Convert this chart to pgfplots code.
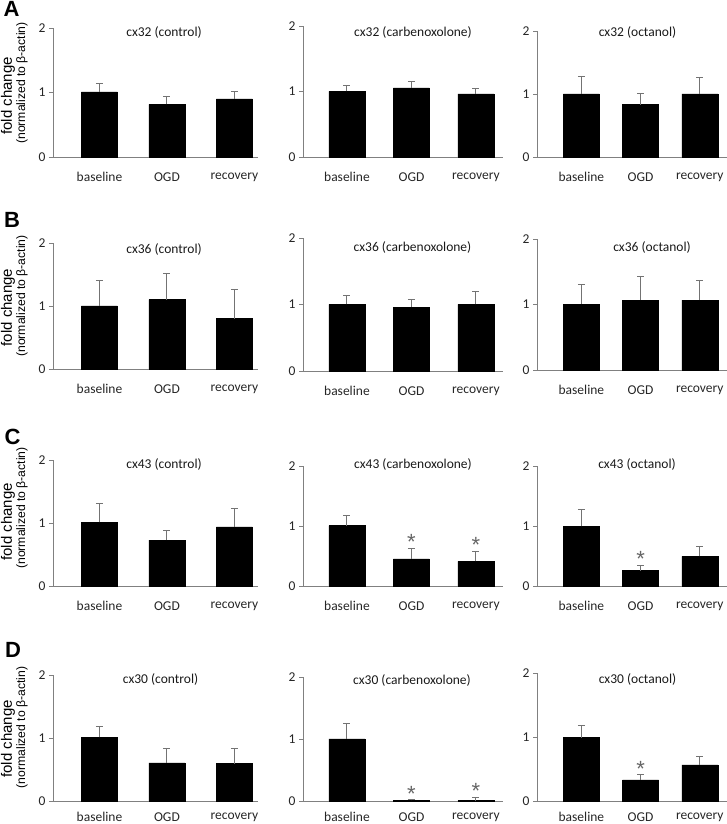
\documentclass[border=0pt]{standalone}
\usepackage{pgfplots}
\pgfplotsset{compat=1.18}
\usepackage{fontspec}
\setmainfont{Carlito}
\newfontfamily\arial{Liberation Sans}

\pgfplotsset{
  panel/.style={
    scale only axis,
    axis lines*=left,
    ymin=0, ymax=2, ytick={0,1,2},
    xtick={0,1,2}, xticklabels={baseline,OGD,recovery},
    axis line style={black!50, line width=0.9pt, -},
    xtick style={draw=none},
    ytick style={black!50, line width=0.9pt},
    tick align=outside, major tick length=4pt,
    ticklabel style={font=\fontsize{13.5}{15}\selectfont, text=black!85},
    /pgf/number format/assume math mode=true,
    anchor=south west,
    clip=false,
  },
  bars/.style={ybar, bar width=36pt, bar shift=0pt, fill=black, draw=black,
    error bars/y dir=plus, error bars/y explicit,
    error bars/error bar style={black!55, line width=1pt},
    error bars/error mark options={rotate=90, black!55, mark size=3.5pt, line width=1pt}},
  star/.style={only marks, mark=text, text mark={*}, text mark as node=true,
    text mark style={font=\arial\fontsize{22}{22}\selectfont, text=black!60, anchor=center, inner sep=0pt}},
  upper/.style={xticklabel style={yshift=-8pt}},
  lower/.style={xticklabel style={yshift=-4pt}},
}

\begin{document}
\begin{tikzpicture}[x=1pt,y=1pt]
\path[use as bounding box] (0,0) rectangle (727,824);

% ---------------- Row A ----------------
\begin{axis}[panel, upper, at={(53pt,667pt)}, width=205pt, height=129pt, xmin=-0.689, xmax=2.35]
\addplot[bars] table[x=x,y=y,y error=e] {
x y e
0 1.01 0.13
1 0.815 0.12
2 0.90 0.12
};
\end{axis}
\begin{axis}[panel, upper, at={(303pt,667pt)}, width=200pt, height=131pt, xmin=-0.682, xmax=2.42]
\addplot[bars] table[x=x,y=y,y error=e] {
x y e
0 1.0 0.09
1 1.056 0.09
2 0.964 0.076
};
\end{axis}
\begin{axis}[panel, upper, at={(537pt,667pt)}, width=190pt, height=126pt, xmin=-0.75, xmax=2.46]
\addplot[bars] table[x=x,y=y,y error=e] {
x y e
0 1.0 0.275
1 0.83 0.175
2 1.0 0.26
};
\end{axis}

% ---------------- Row B ----------------
\begin{axis}[panel, upper, at={(53pt,455pt)}, width=205pt, height=126pt, xmin=-0.689, xmax=2.35]
\addplot[bars] table[x=x,y=y,y error=e] {
x y e
0 1.0 0.41
1 1.10 0.413
2 0.80 0.454
};
\end{axis}
\begin{axis}[panel, upper, at={(303pt,453pt)}, width=200pt, height=133pt, xmin=-0.682, xmax=2.42]
\addplot[bars] table[x=x,y=y,y error=e] {
x y e
0 1.0 0.13
1 0.96 0.12
2 1.0 0.19
};
\end{axis}
\begin{axis}[panel, upper, at={(537pt,454pt)}, width=190pt, height=131pt, xmin=-0.75, xmax=2.46]
\addplot[bars] table[x=x,y=y,y error=e] {
x y e
0 1.005 0.295
1 1.066 0.364
2 1.066 0.304
};
\end{axis}

% ---------------- Row C ----------------
\begin{axis}[panel, upper, at={(53pt,238pt)}, width=205pt, height=126pt, xmin=-0.689, xmax=2.35]
\addplot[bars] table[x=x,y=y,y error=e] {
x y e
0 1.01 0.295
1 0.727 0.148
2 0.94 0.285
};
\end{axis}
\begin{axis}[panel, upper, at={(303pt,238pt)}, width=200pt, height=120pt, xmin=-0.682, xmax=2.42]
\addplot[bars] table[x=x,y=y,y error=e] {
x y e
0 1.005 0.165
1 0.45 0.167
2 0.41 0.157
};
\addplot[star] coordinates {(1,0.74) (2,0.69)};
\end{axis}
\begin{axis}[panel, upper, at={(537pt,238pt)}, width=190pt, height=120pt, xmin=-0.75, xmax=2.46]
\addplot[bars] table[x=x,y=y,y error=e] {
x y e
0 0.994 0.276
1 0.255 0.085
2 0.494 0.162
};
\addplot[star] coordinates {(1,0.455)};
\end{axis}

% ---------------- Row D ----------------
\begin{axis}[panel, lower, at={(53pt,23pt)}, width=205pt, height=126pt, xmin=-0.689, xmax=2.35]
\addplot[bars] table[x=x,y=y,y error=e] {
x y e
0 1.008 0.172
1 0.605 0.228
2 0.594 0.239
};
\end{axis}
\begin{axis}[panel, lower, at={(303pt,23pt)}, width=200pt, height=124pt, xmin=-0.682, xmax=2.42]
\addplot[bars] table[x=x,y=y,y error=e] {
x y e
0 1.0 0.258
1 0.012 0.018
2 0.005 0.045
};
\addplot[star] coordinates {(1,0.118) (2,0.155)};
\end{axis}
\begin{axis}[panel, lower, at={(537pt,23pt)}, width=190pt, height=128pt, xmin=-0.75, xmax=2.46]
\addplot[bars] table[x=x,y=y,y error=e] {
x y e
0 0.99 0.19
1 0.33 0.084
2 0.565 0.135
};
\addplot[star] coordinates {(1,0.505)};
\end{axis}

% ---------------- titles ----------------
\tikzset{ttl/.style={font=\fontsize{13.5}{15}\selectfont, text=black!90, inner sep=0pt}}
\node[ttl] at (164,791) {cx32 (control)};
\node[ttl] at (413,791) {cx32 (carbenoxolone)};
\node[ttl] at (637.5,791) {cx32 (octanol)};
\node[ttl] at (164,574) {cx36 (control)};
\node[ttl] at (412.5,576) {cx36 (carbenoxolone)};
\node[ttl] at (652,576) {cx36 (octanol)};
\node[ttl] at (164,359) {cx43 (control)};
\node[ttl] at (413,359) {cx43 (carbenoxolone)};
\node[ttl] at (637,359) {cx43 (octanol)};
\node[ttl] at (160.5,144) {cx30 (control)};
\node[ttl] at (412,143) {cx30 (carbenoxolone)};
\node[ttl] at (637.5,144) {cx30 (octanol)};

% ---------------- y labels ----------------
\tikzset{yl1/.style={rotate=90, font=\arial\fontsize{15}{18}\selectfont, inner sep=0pt},
         yl2/.style={rotate=90, font=\arial\fontsize{12.2}{15}\selectfont, inner sep=0pt}}
\node[yl1] at (8,728) {fold change};
\node[yl2] at (22,741) {(normalized to β-actin)};
\node[yl1] at (8,516.5) {fold change};
\node[yl2] at (22,528) {(normalized to β-actin)};
\node[yl1] at (8,302) {fold change};
\node[yl2] at (22,316) {(normalized to β-actin)};
\node[yl1] at (8,85) {fold change};
\node[yl2] at (22,96.5) {(normalized to β-actin)};

% ---------------- panel letters ----------------
\tikzset{let/.style={font=\arial\bfseries\fontsize{22}{24}\selectfont, inner sep=0pt}}
\node[let] at (11.5,815.5) {A};
\node[let] at (12,604) {B};
\node[let] at (12.5,387.5) {C};
\node[let] at (13,174) {D};
\end{tikzpicture}
\end{document}
